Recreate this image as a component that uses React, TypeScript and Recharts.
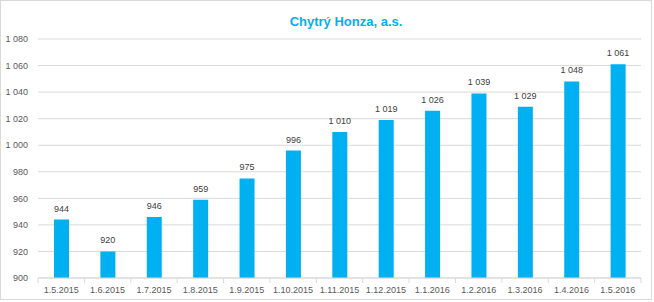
import React from "react";
import { BarChart, Bar, XAxis, YAxis, CartesianGrid, LabelList } from "recharts";

const dates = [
  "1.5.2015", "1.6.2015", "1.7.2015", "1.8.2015", "1.9.2015", "1.10.2015", "1.11.2015",
  "1.12.2015", "1.1.2016", "1.2.2016", "1.3.2016", "1.4.2016", "1.5.2016",
];
const values = [944, 920, 946, 959, 975, 996, 1010, 1019, 1026, 1039, 1029, 1048, 1061];
const yTicks = [900, 920, 940, 960, 980, 1000, 1020, 1040, 1060, 1080];

const data = dates.map((d, i) => ({ date: d, value: values[i] }));

// thousands separated by a non-breaking space so labels stay on one line
const fmt = (v: number) => String(v).replace(/\B(?=(\d{3})+(?!\d))/g, "\u00A0");

const FONT = "'Liberation Sans', Arial, sans-serif";
const CYAN = "#00B0F0";
const GRID = "#d9d9d9";

function DateTick(props: any) {
  const { x, y, payload, index } = props;
  const off = payload?.offset ?? 23.2;
  return (
    <g>
      <line x1={x - off} y1={y} x2={x - off} y2={y + 5} stroke={GRID} />
      {index === dates.length - 1 && (
        <line x1={x + off} y1={y} x2={x + off} y2={y + 5} stroke={GRID} />
      )}
      <text x={x} y={y + 15} textAnchor="middle" fontSize={9} fill="#595959" fontFamily={FONT}>
        {payload.value}
      </text>
    </g>
  );
}

function ValueLabel(props: any) {
  const { x, y, width, value } = props;
  return (
    <text x={x + width / 2} y={y - 8} textAnchor="middle" fontSize={9} fill="#404040" fontFamily={FONT}>
      {fmt(value)}
    </text>
  );
}

export default function App() {
  return (
    <div style={{ position: "absolute", left: 0, top: 0, width: 654, height: 302, background: "#fff" }}>
      <div
        style={{
          position: "absolute",
          left: 0,
          top: 0,
          width: 652,
          height: 300,
          border: "1px solid #d9d9d9",
          boxSizing: "border-box",
        }}
      />
      <div
        style={{
          position: "absolute",
          left: 0,
          top: 14,
          width: 692,
          textAlign: "center",
          color: CYAN,
          fontFamily: FONT,
          fontWeight: "bold",
          fontSize: 13,
        }}
      >
        Chytrý Honza, a.s.
      </div>
      <BarChart
        width={654}
        height={302}
        data={data}
        margin={{ top: 39, right: 13, left: 0, bottom: 4 }}
        barCategoryGap={0}
      >
        <CartesianGrid vertical={false} stroke={GRID} />
        <XAxis
          dataKey="date"
          height={20}
          axisLine={{ stroke: GRID }}
          tickLine={false}
          tickSize={0}
          tickMargin={0}
          interval={0}
          tick={<DateTick />}
        />
        <YAxis
          width={38}
          domain={[900, 1080]}
          ticks={yTicks}
          allowDataOverflow
          axisLine={false}
          tickLine={false}
          tickMargin={4}
          tickFormatter={fmt}
          tick={{ fontSize: 9, fill: "#595959", fontFamily: FONT }}
        />
        <Bar dataKey="value" fill={CYAN} barSize={15} isAnimationActive={false}>
          <LabelList dataKey="value" content={<ValueLabel />} />
        </Bar>
      </BarChart>
    </div>
  );
}
